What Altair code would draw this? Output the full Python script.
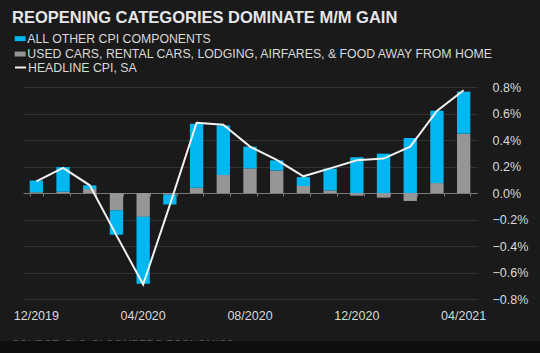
import altair as alt
import pandas as pd

months = ["12/2019", "01/2020", "02/2020", "03/2020", "04/2020", "05/2020", "06/2020",
          "07/2020", "08/2020", "09/2020", "10/2020", "11/2020", "12/2020", "01/2021",
          "02/2021", "03/2021", "04/2021"]
reopening = [0.005, 0.01, 0.03, -0.13, -0.18, -0.012, 0.04, 0.136, 0.186, 0.17, 0.053,
             0.02, -0.02, -0.035, -0.06, 0.075, 0.448]
other = [0.09, 0.186, 0.028, -0.185, -0.505, -0.075, 0.483, 0.374, 0.164, 0.076, 0.067,
         0.164, 0.27, 0.297, 0.415, 0.545, 0.317]
headline = [0.088, 0.19, 0.058, -0.32, -0.69, -0.09, 0.53, 0.515, 0.35, 0.25, 0.126,
            0.186, 0.247, 0.26, 0.35, 0.62, 0.775]
label_months = ["12/2019", "04/2020", "08/2020", "12/2020", "04/2021"]
y_ticks = [-0.8, -0.6, -0.4, -0.2, 0.0, 0.2, 0.4, 0.6, 0.8]

TITLE = "REOPENING CATEGORIES DOMINATE M/M GAIN"
SOURCE = "SOURCE: BLS, BLOOMBERG ECONOMICS"
S_OTHER = "ALL OTHER CPI COMPONENTS"
S_REOPEN = "USED CARS, RENTAL CARS, LODGING, AIRFARES, & FOOD AWAY FROM HOME"
S_HEAD = "HEADLINE CPI, SA"

CYAN = "#00b7f1"
GRAY = "#969696"
BG = "#1a1a1a"
TXT = "#d9d9d9"
FONT = "Liberation Sans"

rows = []
for m, r, o in zip(months, reopening, other):
    rows.append({"month": m, "series": S_REOPEN, "value": r, "ord": 0})
    rows.append({"month": m, "series": S_OTHER, "value": o, "ord": 1})
bars_df = pd.DataFrame(rows)
line_df = pd.DataFrame({"month": months, "value": headline, "series": [S_HEAD] * len(months)})
title_df = pd.DataFrame({"t": [TITLE]})
source_df = pd.DataFrame({"t": [SOURCE]})

W, H = 454, 212

xscale = alt.Scale(domain=months, paddingInner=0.5, paddingOuter=0.25)
yscale = alt.Scale(domain=[-0.8, 0.8], nice=False, zero=False)


def y_axis():
    return alt.Axis(orient="right", values=y_ticks, domain=False, ticks=False,
                    labelPadding=15, labelColor=TXT, labelFontSize=12.5, labelFont=FONT,
                    labelOverlap=False, labelBound=False,
                    labelExpr="format(datum.value, '.1f') + '%'",
                    grid=True, gridColor="#333333", gridWidth=1)


bars = alt.Chart(bars_df).mark_bar().encode(
    x=alt.X("month:N", scale=xscale, sort=months, title=None,
            axis=alt.Axis(orient="bottom", values=label_months, ticks=False, domain=False,
                          labelAngle=0, labelPadding=10, labelColor=TXT, labelFontSize=12.5,
                          labelFont=FONT, grid=False)),
    y=alt.Y("value:Q", stack="zero", scale=yscale, title=None, axis=y_axis()),
    color=alt.Color("series:N",
                    scale=alt.Scale(domain=[S_OTHER, S_REOPEN], range=[CYAN, GRAY]),
                    legend=alt.Legend(orient="none", legendX=-9, legendY=-54.5, title=None,
                                      symbolType="M-1,-0.45H1V0.45H-1Z", symbolSize=121,
                                      symbolStrokeWidth=0, labelColor=TXT, labelFontSize=12.3,
                                      labelFont=FONT, rowPadding=2.4, labelOffset=1,
                                      labelLimit=0, padding=0)),
    order=alt.Order("ord:Q"),
)

line = alt.Chart(line_df).mark_line(strokeWidth=2).encode(
    x=alt.X("month:N", scale=xscale, sort=months, title=None,
            axis=alt.Axis(orient="bottom", offset=-106, labels=False, domain=True,
                          domainColor="#7a7a7a", domainWidth=1, ticks=True, tickBand="extent",
                          tickSize=3, tickColor="#7a7a7a", grid=False)),
    y=alt.Y("value:Q", scale=yscale, title=None, axis=y_axis()),
    stroke=alt.Stroke("series:N", scale=alt.Scale(domain=[S_HEAD], range=["#f2f2f2"]),
                      legend=alt.Legend(orient="none", legendX=-9, legendY=-26, title=None,
                                        symbolType="stroke", symbolSize=121,
                                        symbolStrokeWidth=2, labelColor=TXT, labelFontSize=12.3,
                                        labelFont=FONT, labelOffset=1, labelLimit=0,
                                        padding=0)),
)

title = alt.Chart(title_df).mark_text(align="left", baseline="alphabetic", color="#e6e6e6",
                                      fontSize=16.5, font=FONT, fontWeight="bold").encode(
    x=alt.value(-11), y=alt.value(-64.3), text="t:N")

source = alt.Chart(source_df).mark_text(align="left", baseline="top", color="#5a5a5a",
                                        fontSize=11, font=FONT).encode(
    x=alt.value(-11), y=alt.value(252), text="t:N")

strip = alt.Chart(source_df).mark_rect(color="#0e0e0e").encode(
    x=alt.value(-23), x2=alt.value(W + 63), y=alt.value(254), y2=alt.value(H + 54))

chart = alt.layer(bars, line, title, source, strip).resolve_axis(x="independent").resolve_scale(
    color="independent").properties(
    width=W, height=H,
    background=BG,
    padding={"left": 23, "top": 87, "right": 63, "bottom": 54},
    autosize=alt.AutoSizeParams(type="none"),
).configure_view(stroke=None)

chart.save("out.html", embed_options={"renderer": "svg", "actions": False})
